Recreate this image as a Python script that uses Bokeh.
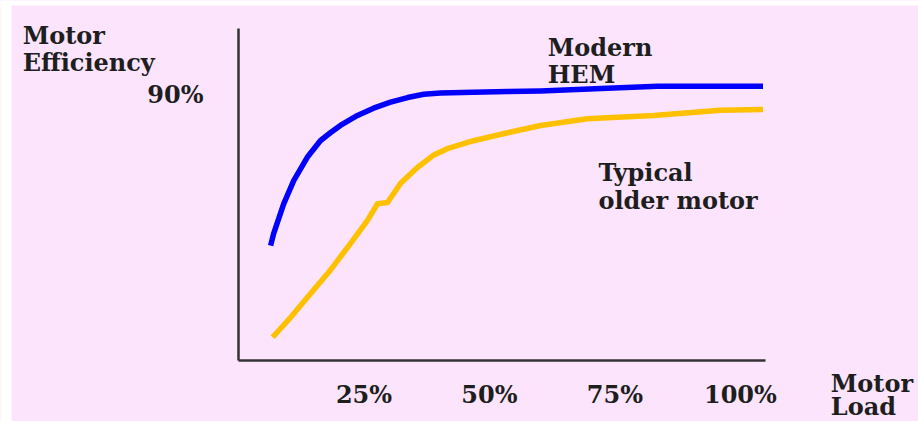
from bokeh.plotting import figure
from bokeh.models import Range1d, FixedTicker, Label, BoxAnnotation
from bokeh.embed import file_html
from bokeh.resources import INLINE

# Data (motor load %, efficiency %)
hem_load = [6.4, 7.0, 9.0, 11.0, 13.7, 16.3, 18.3, 20.3, 23.7, 26.9, 30.3, 33.7,
            36.9, 40.2, 46.8, 53.6, 60.2, 73.5, 83.5, 104.5]
hem_eff = [67.3, 69.1, 73.6, 77.1, 80.6, 83.1, 84.3, 85.4, 86.9, 88.0, 88.9, 89.6,
           90.1, 90.3, 90.4, 90.5, 90.6, 91.0, 91.3, 91.3]

old_load = [6.8, 10.4, 13.7, 18.3, 22.3, 25.7, 27.7, 29.7, 32.3, 35.7, 38.8, 41.6,
            46.8, 53.6, 60.2, 69.5, 82.7, 96.0, 104.5]
old_eff = [53.5, 56.5, 59.5, 63.6, 67.6, 71.1, 73.6, 73.8, 76.7, 79.1, 80.9, 81.9,
           83.1, 84.3, 85.4, 86.4, 86.9, 87.7, 87.8]

x_ticks = [25, 50, 75, 100]
x_tick_labels = ["25%", "50%", "75%", "100%"]
y_ticks = [90]
y_tick_labels = ["90%"]

BG = "#FCE5FC"
TXT = "#1E1E1E"
FONT = "DejaVu Serif"
FS = "24px"

X0, X1 = -47.42, 135.48
Y0, Y1 = 40.81, 104.22

p = figure(width=918, height=421, output_backend="svg", toolbar_location=None,
           x_range=Range1d(X0, X1), y_range=Range1d(Y0, Y1),
           min_border_left=0, min_border_right=0, min_border_top=0,
           min_border_bottom=0)
p.background_fill_color = BG
p.border_fill_color = BG
p.outline_line_color = None
p.grid.visible = False

# white page edges left and top, as in the reference
p.add_layout(BoxAnnotation(right=X0 + 11 / 5.019, fill_color="white", fill_alpha=1,
                           line_color=None, level="underlay"))
p.add_layout(BoxAnnotation(bottom=Y1 - 5 / 6.64, fill_color="white", fill_alpha=1,
                           line_color=None, level="underlay"))

for ax in (p.xaxis[0], p.yaxis[0]):
    ax.axis_line_color = "#333333"
    ax.axis_line_width = 2.5
    ax.major_tick_line_color = None
    ax.minor_tick_line_color = None
    ax.major_tick_in = 0
    ax.major_tick_out = 0
    ax.minor_tick_in = 0
    ax.minor_tick_out = 0
    ax.major_label_text_font = FONT
    ax.major_label_text_font_style = "bold"
    ax.major_label_text_font_size = FS
    ax.major_label_text_color = TXT

p.xaxis.fixed_location = 50
p.xaxis.bounds = (0, 105)
p.yaxis.fixed_location = 0
p.yaxis.bounds = (50, 100)

p.xaxis.ticker = FixedTicker(ticks=x_ticks)
p.xaxis.major_label_overrides = {t: l for t, l in zip(x_ticks, x_tick_labels)}
p.xaxis.major_label_standoff = 20
p.yaxis.ticker = FixedTicker(ticks=y_ticks)
p.yaxis.major_label_overrides = {t: l for t, l in zip(y_ticks, y_tick_labels)}
p.yaxis.major_label_standoff = 35

p.line(hem_load, hem_eff, line_color="#0000FF", line_width=5.5, line_join="round")
p.line(old_load, old_eff, line_color="#FFC000", line_width=5.5, line_join="round")

def add_label(x, y, txt):
    p.add_layout(Label(x=x, y=y, text=txt, text_font=FONT, text_font_style="bold",
                       text_font_size=FS, text_color=TXT, text_align="left",
                       text_baseline="alphabetic"))

add_label(-43.0, 98.95, "Motor")
add_label(-43.0, 94.88, "Efficiency")
add_label(61.6, 97.14, "Modern")
add_label(61.6, 93.07, "HEM")
add_label(71.7, 78.31, "Typical")
add_label(71.7, 74.10, "older motor")
add_label(118.0, 46.54, "Motor")
add_label(118.0, 43.07, "Load")

open("out.html", "w").write(file_html(p, INLINE))
